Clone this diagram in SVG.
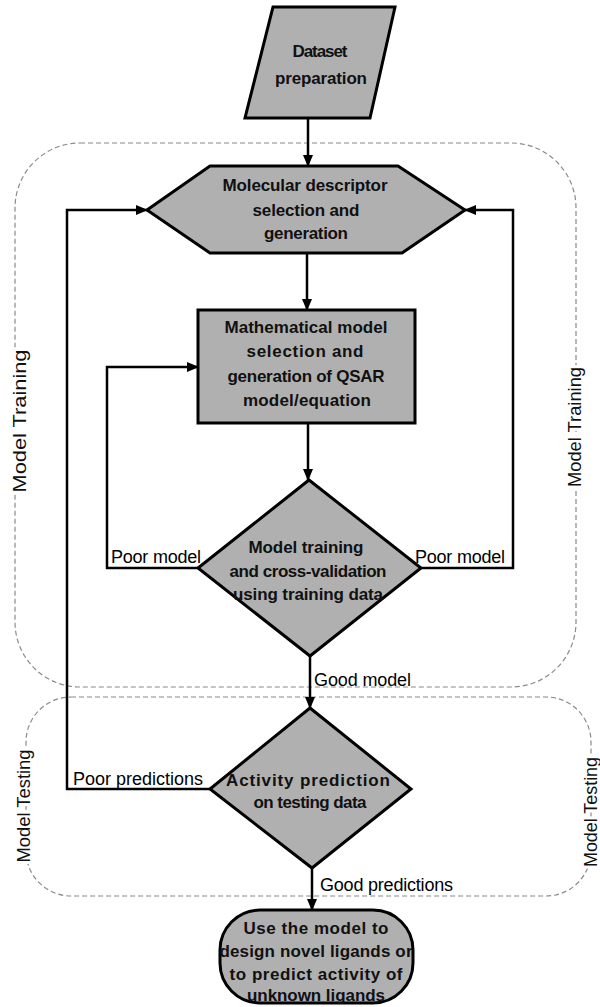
<svg xmlns="http://www.w3.org/2000/svg" width="600" height="1007" viewBox="0 0 600 1007">
<style>
.bg{fill:#fff}
.node{fill:#b0b0b0;stroke:#000;stroke-width:3;stroke-linejoin:miter}
.nt{font-family:"Liberation Sans",Arial,sans-serif;font-size:17px;font-weight:bold;fill:#111;text-anchor:middle}
.lbl{font-family:"Liberation Sans",Arial,sans-serif;font-size:18px;fill:#000}
.side{font-family:"Liberation Sans",Arial,sans-serif;font-size:18px;fill:#111;text-anchor:middle;stroke:#fff;stroke-width:6;paint-order:stroke}
.zone{fill:none;stroke:#8a8a8a;stroke-width:1.2;stroke-dasharray:5 3}
.conn{fill:none;stroke:#000;stroke-width:2.5}
</style>
<defs>
<marker id="arr" markerUnits="userSpaceOnUse" markerWidth="12" markerHeight="10" refX="11" refY="5" orient="auto">
<path d="M0,0 L12,5 L0,10 z" fill="#000"/>
</marker>
</defs>
<rect class="bg" x="0" y="0" width="600" height="1007"/>
<g id="zones">
<rect id="zone-training" class="zone" x="15" y="143" width="561" height="544" rx="65"/>
<rect id="zone-testing" class="zone" x="26" y="697" width="565" height="199" rx="45"/>
<text class="side" transform="translate(20,421) rotate(-90)" y="6" textLength="143" lengthAdjust="spacingAndGlyphs">Model Training</text>
<text class="side" transform="translate(575,427) rotate(-90)" y="6" textLength="120" lengthAdjust="spacingAndGlyphs">Model Training</text>
<text class="side" transform="translate(24,806) rotate(-90)" y="6" textLength="113" lengthAdjust="spacingAndGlyphs">Model Testing</text>
<text class="side" transform="translate(591,812) rotate(-90)" y="6" textLength="110" lengthAdjust="spacingAndGlyphs">Model Testing</text>
</g>
<g id="connectors">
<path class="conn" d="M308,118 V166" marker-end="url(#arr)"/>
<path class="conn" d="M307,253 V310" marker-end="url(#arr)"/>
<path class="conn" d="M308,423 V480" marker-end="url(#arr)"/>
<path class="conn" d="M198,568 H107 V367 H198" marker-end="url(#arr)"/>
<path class="conn" d="M421,568 H513 V210 H465" marker-end="url(#arr)"/>
<path class="conn" d="M310,656 V708" marker-end="url(#arr)"/>
<path class="conn" d="M210,789 H67 V210 H147" marker-end="url(#arr)"/>
<path class="conn" d="M312,868 V910" marker-end="url(#arr)"/>
<text class="lbl" x="156" y="563" text-anchor="middle" textLength="90">Poor model</text>
<text class="lbl" x="460" y="563" text-anchor="middle" textLength="90">Poor model</text>
<text class="lbl" x="314" y="686" textLength="97">Good model</text>
<text class="lbl" x="73" y="785" textLength="130">Poor predictions</text>
<text class="lbl" x="320" y="891" textLength="133">Good predictions</text>
</g>
<g id="dataset">
<polygon class="node" points="273,7 395,7 370,118 245,118"/>
<text class="nt" x="320" y="57" textLength="55">Dataset</text>
<text class="nt" x="321" y="84" textLength="92">preparation</text>
</g>
<g id="descriptor">
<polygon class="node" points="147,210 210,166 398,166 465,210 402,253 210,253"/>
<text class="nt" x="305" y="191" textLength="165">Molecular descriptor</text>
<text class="nt" x="306" y="216" textLength="107">selection and</text>
<text class="nt" x="306" y="239" textLength="84">generation</text>
</g>
<g id="model">
<rect class="node" x="198" y="310" width="217" height="113"/>
<text class="nt" x="306" y="333" textLength="163">Mathematical model</text>
<text class="nt" x="305" y="357" textLength="117">selection and</text>
<text class="nt" x="306" y="382" textLength="157">generation of QSAR</text>
<text class="nt" x="307" y="406" textLength="128">model/equation</text>
</g>
<g id="training">
<polygon class="node" points="309,480 421,568 310,656 198,568"/>
<text class="nt" x="306" y="553" textLength="115">Model training</text>
<text class="nt" x="308" y="577" textLength="157">and cross-validation</text>
<text class="nt" x="308" y="600" textLength="150">using training data</text>
</g>
<g id="testing">
<polygon class="node" points="310,708 411,789 312,868 210,789"/>
<text class="nt" x="308" y="786" textLength="164">Activity prediction</text>
<text class="nt" x="310" y="808" textLength="113">on testing data</text>
</g>
<g id="use">
<rect class="node" x="220" y="910" width="193" height="93" rx="40"/>
<text class="nt" x="316" y="934" textLength="145">Use the model to</text>
<text class="nt" x="316" y="957" textLength="193">design novel ligands or</text>
<text class="nt" x="316" y="980" textLength="173">to predict activity of</text>
<text class="nt" x="316" y="1001" textLength="138">unknown ligands</text>
</g>
</svg>
